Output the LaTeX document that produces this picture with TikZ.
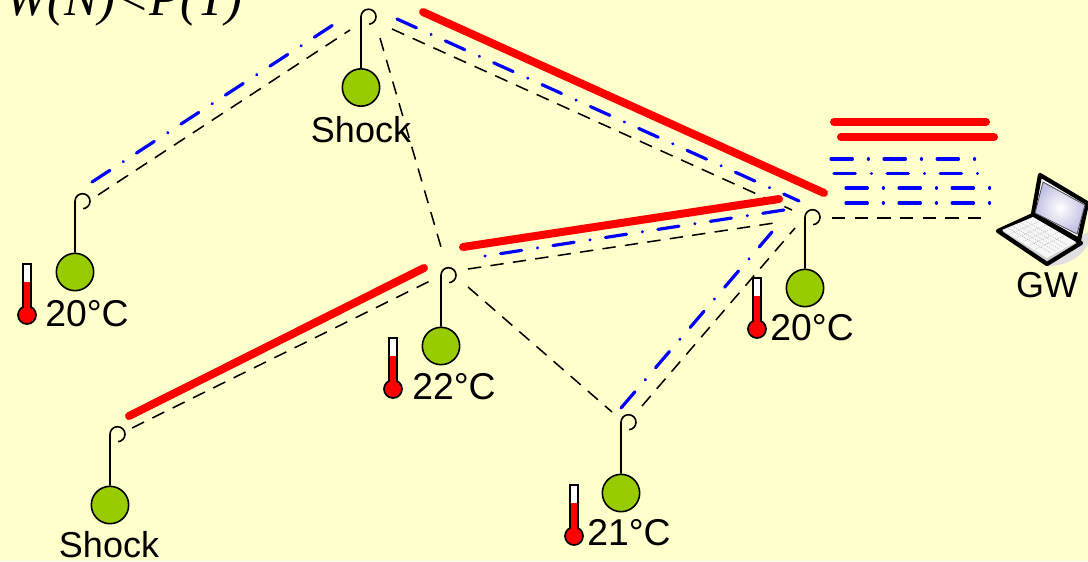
\documentclass[tikz,border=0pt]{standalone}
\usepackage{fontspec}
\setmainfont{Liberation Sans}
\newfontfamily\titlefont{Liberation Serif}
\usetikzlibrary{positioning,calc}
\definecolor{paper}{HTML}{FFFFCC}
\definecolor{moss}{HTML}{99CC00}

\begin{document}
\begin{tikzpicture}[x=0.75pt, y=-0.75pt, font=\fontsize{27}{30}\selectfont,
                    c/.style={line cap=round, line join=round},
                    route/.style={c, red, line width=6pt},
                    beacon/.style={c, blue, line width=2.4pt, dash pattern=on 16pt off 12pt on 0.1pt off 11.7pt},
                    link/.style={black, line width=1.15pt, dash pattern=on 10pt off 7pt},
                    ball/.style={circle, draw, line width=1.2pt, fill=moss, minimum size=28pt, inner sep=0pt},
                    wire/.style={line width=1.2pt},
                    temp/.style={font=\fontsize{28}{30}\selectfont},
                    case/.style={line width=3.2pt, line join=round}]
  \useasboundingbox (0,0) rectangle (1088,561);
  \fill[paper] (0,0) rectangle (1088,561);
  \node[anchor=base west, inner sep=0pt, font=\titlefont\itshape\fontsize{38}{40}\selectfont] (formula) at (5,15) {W(N)<P(T)};
  % links
  \foreach \name/\xa/\ya/\xb/\yb in {la/98/195/350/30, lb/392/29/792/210, lc/380/38/441/247, ld/468/269/781/222,
                                     le/132/428/432/280, lf/468/287/612/412, lg/642/406/795/228, lh/832/218/984/218} {
    \coordinate (\name1) at (\xa,\ya);
    \coordinate (\name2) at (\xb,\yb);
    \draw[link] (\name1) -- (\name2);
  }
  % beacons
  \foreach \name/\xa/\ya/\xb/\yb in {ba/92/182/333/25, bb/397/19/799/201, bc/621/408/772/232,
                                     bd/831/159/977/159, be/834/173.5/980/173.5, bf/846/188/992/188, bg/846/203/992/203} {
    \coordinate (\name1) at (\xa,\ya);
    \coordinate (\name2) at (\xb,\yb);
    \draw[beacon] (\name1) -- (\name2);
  }
  \coordinate (bh1) at (485,256);
  \coordinate (bh2) at (784,210);
  \draw[beacon, dash phase=28pt] (bh1) -- (bh2);
  % routes
  \foreach \name/\xa/\ya/\xb/\yb in {ra/423/12/824/193, rb/463/247/779/199, rc/129/416/424/268,
                                     rd/834/122/986/122, re/841/137/994/137} {
    \coordinate (\name1) at (\xa,\ya);
    \coordinate (\name2) at (\xb,\yb);
    \draw[route] (\name1) -- (\name2);
  }
  % sensors
  \foreach \name/\x/\y in {top/361/87.5, west/75/272, mid/441/346, east/805/288, south/621/493, corner/110/505} {
    \node[ball] (ball\name) at (\x,\y) {};
    \coordinate (hook\name) at ([yshift=38.5pt]ball\name.north);
    \draw[wire] (ball\name.north) -- (hook\name) arc (180:445:7.5);
  }
  \node[below=0pt of balltop, inner sep=0pt, yshift=-7pt] (shocktop) {Shock};
  \node (shockcorner) at (109,545) {Shock};
  % thermometers
  \foreach \name/\x/\y/\lx/\ly/\val in {west/27/315/87/314/20, mid/393/389/454/387/22, east/757/329/812/328/20, south/574/536/629/533/21} {
    \draw[line width=1.4pt, fill=white] (\x-4,\y-51) rectangle (\x+4,\y-5);
    \fill[red] (\x-3.4,\y-33) rectangle (\x+3.4,\y-5);
    \draw[line width=1.3pt, fill=red] (\x,\y) circle (9);
    \fill[red] (\x-3.4,\y-12) rectangle (\x+3.4,\y-4);
    \node[temp] (temp\name) at (\lx,\ly) {\val°C};
  }
  % gateway
  \fill[gray!25] (1047,266) .. controls (1068,266) and (1082,256) .. (1088,244) -- (1088,232) -- (1060,248) -- cycle;
  \draw[case, fill=white] (1040,175) -- (1087,203) -- (1079,240) -- (1033,214) -- cycle;
  \shade[inner color=white, outer color=blue!40!gray!35, draw=black!70, line width=0.6pt] (1043,182) -- (1085,205) -- (1077,234) -- (1035,213) -- cycle;
  \draw[case, fill=gray!35] (998,231) -- (1033,215) -- (1081,243) -- (1047,264) -- cycle;
  \fill[gray!6] (1002,230) -- (1033,217) -- (1076,242) -- (1047,258) -- cycle;
  \foreach \t in {0.15,0.3,...,0.9} {
    \draw[gray!60, line width=0.5pt, densely dotted] ($(1004,230)!\t!(1033,218)$) -- ($(1047,255)!\t!(1074,242)$);
    \draw[gray!60, line width=0.5pt, densely dotted] ($(1004,230)!\t!(1047,255)$) -- ($(1033,218)!\t!(1074,242)$);
  }
  \node (gw) at (1047,285) {GW};
\end{tikzpicture}
\end{document}
